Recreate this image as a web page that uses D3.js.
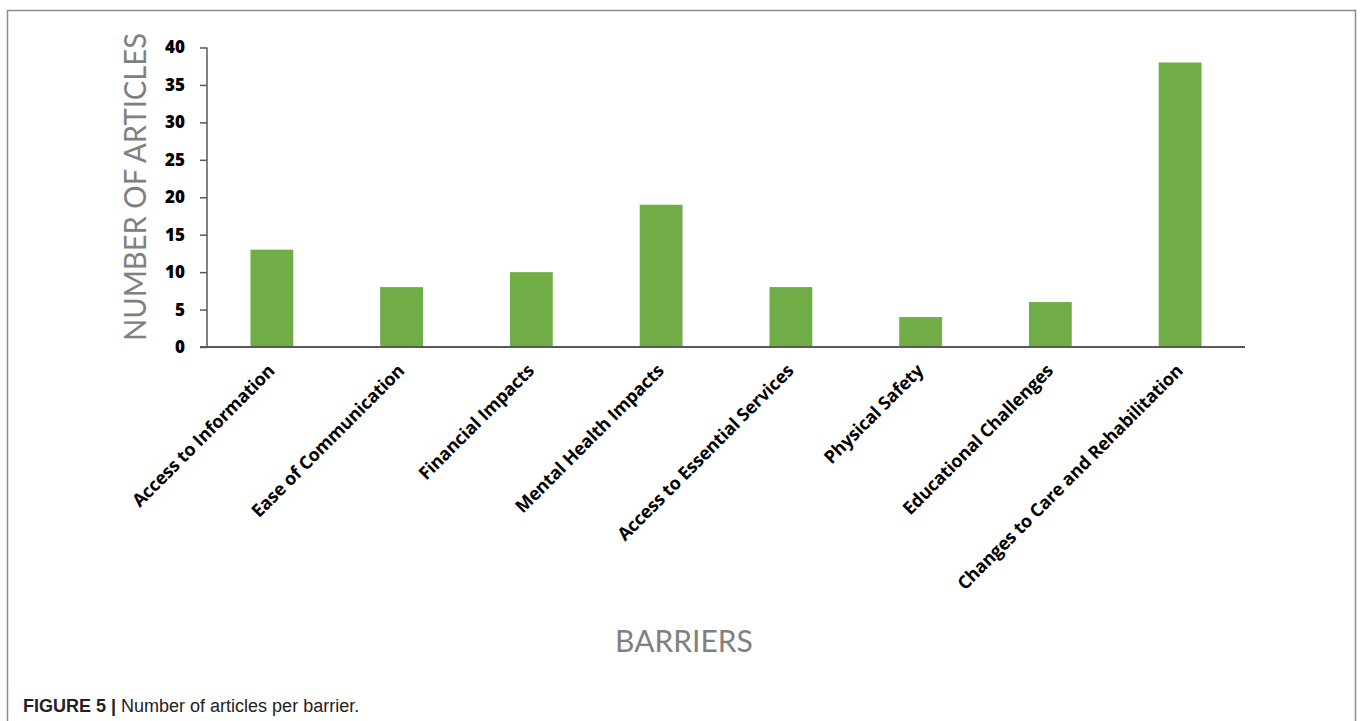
<!DOCTYPE html>
<html>
<head>
<meta charset="utf-8">
<script src="https://cdn.jsdelivr.net/npm/d3@7"></script>
<style>
  body { margin: 0; background: #fff; }
</style>
</head>
<body>
<div id="chart"></div>
<script>
// barrier categories and article counts
var barriers = [
  "Access to Information",
  "Ease of Communication",
  "Financial Impacts",
  "Mental Health Impacts",
  "Access to Essential Services",
  "Physical Safety",
  "Educational Challenges",
  "Changes to Care and Rehabilitation"
];
var articles = [13, 8, 10, 19, 8, 4, 6, 38];
var yTicks = [0, 5, 10, 15, 20, 25, 30, 35, 40];

var width = 1360, height = 721;
var margin = {top: 47.5, left: 207, right: 115, bottom: 374};

var svg = d3.select("#chart")
  .append("svg")
  .attr("width", width)
  .attr("height", height);

//Frame round the figure
svg.append("rect")
  .attr("x", 7.5)
  .attr("y", 10.5)
  .attr("width", 1348)
  .attr("height", 720)
  .style("fill", "none")
  .style("stroke", "#8c8c8c")
  .style("stroke-width", 1.5);

var plotW = width - margin.left - margin.right,
    plotH = height - margin.top - margin.bottom;

var g = svg.append("g")
  .attr("transform", "translate(" + margin.left + "," + margin.top + ")");

//Scales
var x = d3.scaleBand()
  .domain(barriers)
  .range([0, plotW])
  .paddingInner(0.67)
  .paddingOuter(0.335);

var y = d3.scaleLinear()
  .domain([0, 40])
  .range([plotH, 0]);

//Bars
g.selectAll(".bar")
  .data(barriers)
  .enter()
  .append("rect")
  .attr("class", "bar")
  .attr("x", d => x(d))
  .attr("width", x.bandwidth())
  .attr("y", (d, i) => y(articles[i]))
  .attr("height", (d, i) => plotH - y(articles[i]))
  .style("fill", "#70ad47");

//Y axis
var yAxis = g.append("g")
  .call(d3.axisLeft(y).tickValues(yTicks).tickSize(7).tickPadding(15));
yAxis.select(".domain")
  .attr("d", "M0," + plotH + "V0")
  .style("stroke", "#595959")
  .style("stroke-width", 1.5);
yAxis.selectAll(".tick line")
  .style("stroke", "#595959")
  .style("stroke-width", 1.5);
yAxis.selectAll(".tick text")
  .style("font-family", "'Open Sans', sans-serif")
  .style("font-weight", 800)
  .style("font-size", "17px")
  .style("fill", "#000");

//X axis baseline
g.append("line")
  .attr("x1", -7)
  .attr("x2", plotW)
  .attr("y1", plotH)
  .attr("y2", plotH)
  .style("stroke", "#595959")
  .style("stroke-width", 2);

//Rotated category labels
g.selectAll(".xlab")
  .data(barriers)
  .enter()
  .append("text")
  .attr("class", "xlab")
  .attr("transform", d => "translate(" + (x(d) + x.bandwidth() / 2 - 5) + "," + (plotH + 16) + ") rotate(-45)")
  .style("text-anchor", "end")
  .attr("dy", "0.7em")
  .style("font-family", "'Open Sans', sans-serif")
  .style("font-weight", "bold")
  .style("font-size", "18px")
  .style("letter-spacing", "-0.2px")
  .text(d => d);

//Axis titles
svg.append("text")
  .attr("transform", "translate(146,187) rotate(-90)")
  .style("text-anchor", "middle")
  .style("font-family", "Lato, sans-serif")
  .style("font-size", "30px")
  .style("fill", "#808080")
  .attr("textLength", 308)
  .attr("lengthAdjust", "spacingAndGlyphs")
  .text("NUMBER OF ARTICLES");

svg.append("text")
  .attr("x", 684)
  .attr("y", 652)
  .style("text-anchor", "middle")
  .style("font-family", "Lato, sans-serif")
  .style("font-size", "30px")
  .style("fill", "#808080")
  .text("BARRIERS");

//Caption
var cap = svg.append("text")
  .attr("x", 23)
  .attr("y", 712)
  .style("font-family", "'Liberation Sans', Arial, sans-serif")
  .style("font-size", "18px")
  .style("fill", "#222");
cap.append("tspan")
  .style("font-weight", "bold")
  .text("FIGURE 5 | ");
cap.append("tspan")
  .text("Number of articles per barrier.");
</script>
</body>
</html>
